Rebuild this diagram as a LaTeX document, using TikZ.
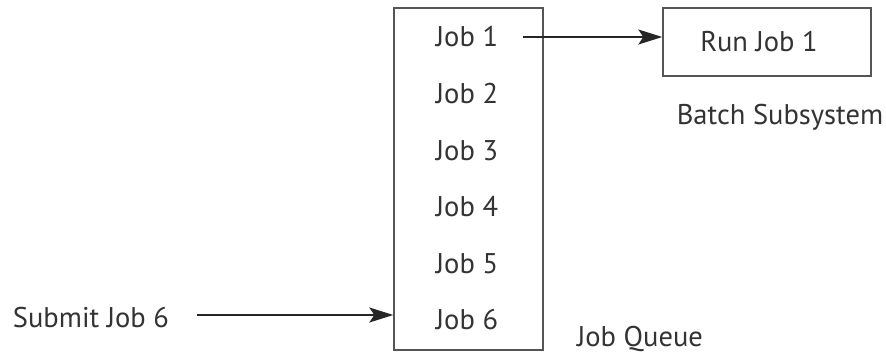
\documentclass[tikz,border=0pt]{standalone}
\usepackage{fontspec}
\setmainfont{PT Sans}
\usetikzlibrary{arrows.meta}
\definecolor{linecol}{HTML}{555555}
\definecolor{textcol}{HTML}{333333}
\begin{document}
\begin{tikzpicture}[x=1pt,y=-1pt,
  lbl/.style={text=textcol,font=\fontsize{28.5}{30}\selectfont,inner sep=0pt,anchor=center},
  boxline/.style={draw=linecol,line width=1.4pt},
  arr/.style={draw=black!85,line width=1.5pt,-{Stealth[length=24pt,width=15pt,inset=5pt]}}]
\useasboundingbox (0,0) rectangle (886,356);
% queue box
\node[boxline,minimum width=149pt,minimum height=342pt,inner sep=0pt] (queue) at (468.5,179) {};
\foreach \i in {1,...,6}{
  \node[lbl] (job\i) at (467,{37+(\i-1)*56.6}) {Job \i};
}
% batch box
\node[boxline,minimum width=208pt,minimum height=68pt,inner sep=0pt] (run) at (767,42) {};
\node[lbl] (runlbl) at (759,42) {Run Job 1};
\node[lbl] (batch) at (780,117) {Batch Subsystem};
\node[lbl] (jq) at (640,339) {Job Queue};
\node[lbl] (submit) at (91,318) {Submit Job 6};
% arrows
\coordinate (a1) at (523,37);
\draw[arr] (a1) -- (run.west |- a1);
\coordinate (a2) at (197,315);
\draw[arr] (a2) -- (queue.west |- a2);
\end{tikzpicture}
\end{document}
